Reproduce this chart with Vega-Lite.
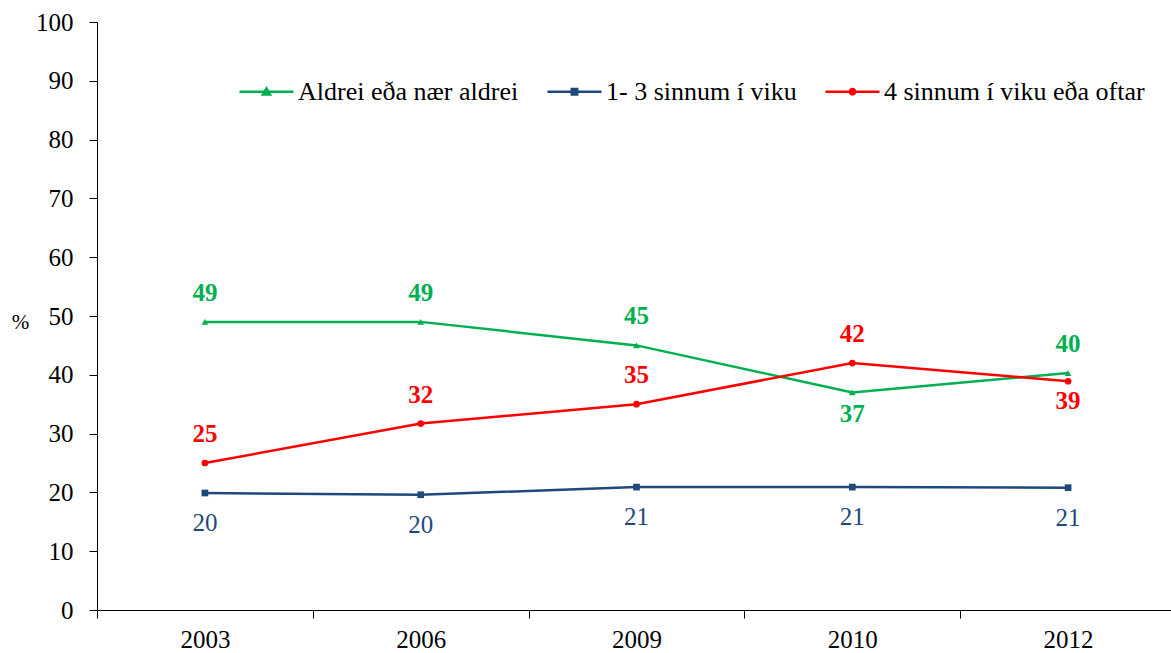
{
  "$schema": "https://vega.github.io/schema/vega-lite/v6.json",
  "width": 1074,
  "height": 588,
  "autosize": "none",
  "padding": {"left": 97, "top": 22, "right": 0, "bottom": 43},
  "background": "white",
  "config": {"view": {"stroke": null}, "font": "Liberation Serif"},
  "data": {
    "values": [
      {"year": "2003", "series": "Aldrei eða nær aldrei", "value": 49},
      {"year": "2006", "series": "Aldrei eða nær aldrei", "value": 49},
      {"year": "2009", "series": "Aldrei eða nær aldrei", "value": 45},
      {"year": "2010", "series": "Aldrei eða nær aldrei", "value": 37},
      {"year": "2012", "series": "Aldrei eða nær aldrei", "value": 40.3},
      {"year": "2003", "series": "1- 3 sinnum í viku", "value": 19.9},
      {"year": "2006", "series": "1- 3 sinnum í viku", "value": 19.6},
      {"year": "2009", "series": "1- 3 sinnum í viku", "value": 20.9},
      {"year": "2010", "series": "1- 3 sinnum í viku", "value": 20.9},
      {"year": "2012", "series": "1- 3 sinnum í viku", "value": 20.8},
      {"year": "2003", "series": "4 sinnum í viku eða oftar", "value": 25},
      {"year": "2006", "series": "4 sinnum í viku eða oftar", "value": 31.7},
      {"year": "2009", "series": "4 sinnum í viku eða oftar", "value": 35},
      {"year": "2010", "series": "4 sinnum í viku eða oftar", "value": 42},
      {"year": "2012", "series": "4 sinnum í viku eða oftar", "value": 38.9}
    ]
  },
  "encoding": {
    "x": {
      "field": "year", "type": "ordinal",
      "scale": {"type": "band", "paddingInner": 0, "paddingOuter": 0, "range": [0, 1079]},
      "axis": {"title": null, "tickBand": "extent", "labelAngle": 0, "labelFontSize": 25, "labelFont": "Liberation Serif", "labelPadding": 9, "tickSize": 8, "domainColor": "black", "tickColor": "black", "labelColor": "black", "grid": false}
    },
    "y": {
      "field": "value", "type": "quantitative",
      "scale": {"domain": [0, 100], "nice": false},
      "axis": {"values": [0, 10, 20, 30, 40, 50, 60, 70, 80, 90, 100], "title": "%", "titleAngle": 0, "titleX": -77, "titleY": 300, "titleAlign": "center", "titleBaseline": "middle", "titleFontSize": 21, "titleFontWeight": "normal", "titleFont": "Liberation Serif", "titleColor": "black", "grid": false, "domainColor": "black", "tickColor": "black", "tickSize": 8, "labelPadding": 16, "labelFontSize": 25, "labelFont": "Liberation Serif", "labelColor": "black"}
    }
  },
  "layer": [
    {
      "mark": {"type": "line", "strokeWidth": 2.5},
      "encoding": {
        "color": {
          "field": "series", "type": "nominal",
          "scale": {"domain": ["Aldrei eða nær aldrei", "1- 3 sinnum í viku", "4 sinnum í viku eða oftar"], "range": ["#00B050", "#1F497D", "#FF0000"]},
          "legend": {
            "title": null, "orient": "none", "legendX": 141, "legendY": 41, "direction": "horizontal", "columns": 3,
            "columnPadding": 23, "labelFont": "Liberation Serif", "labelFontSize": 26, "labelColor": "black", "labelLimit": 400, "labelOffset": 3,
            "symbolSize": 2916, "symbolStrokeWidth": 2.5,
            "encode": {
              "symbols": {
                "update": {
                  "shape": {"signal": "datum.index === 0 ? 'M-1,0H1M-0.13,0.1L0,-0.12L0.13,0.1Z' : datum.index === 1 ? 'M-1,0H1M-0.1,-0.1H0.1V0.1H-0.1Z' : 'M-1,0H1M-0.1,0A0.1,0.1,0,1,0,0.1,0A0.1,0.1,0,1,0,-0.1,0Z'"},
                  "fill": {"scale": "color", "field": "value"},
                  "stroke": {"scale": "color", "field": "value"},
                  "strokeWidth": {"value": 2.5},
                  "size": {"value": 2916},
                  "opacity": {"value": 1},
                  "fillOpacity": {"value": 1}
                }
              }
            }
          }
        }
      }
    },
    {
      "transform": [{"filter": "datum.series === 'Aldrei eða nær aldrei'"}],
      "mark": {"type": "point", "shape": "triangle-up", "filled": true, "opacity": 1, "size": 45, "color": "#00B050"}
    },
    {
      "transform": [{"filter": "datum.series === '1- 3 sinnum í viku'"}],
      "mark": {"type": "point", "shape": "square", "filled": true, "opacity": 1, "size": 45, "color": "#1F497D"}
    },
    {
      "transform": [{"filter": "datum.series === '4 sinnum í viku eða oftar'"}],
      "mark": {"type": "point", "shape": "circle", "filled": true, "opacity": 1, "size": 45, "color": "#FF0000"}
    },
    {
      "transform": [{"filter": "datum.series === 'Aldrei eða nær aldrei' && datum.year !== '2010'"}],
      "mark": {"type": "text", "fontWeight": "bold", "fontSize": 25, "font": "Liberation Serif", "dy": -29, "baseline": "middle", "color": "#00B050"},
      "encoding": {"text": {"field": "value", "type": "quantitative", "format": ".0f"}}
    },
    {
      "transform": [{"filter": "datum.series === 'Aldrei eða nær aldrei' && datum.year === '2010'"}],
      "mark": {"type": "text", "fontWeight": "bold", "fontSize": 25, "font": "Liberation Serif", "dy": 22, "baseline": "middle", "color": "#00B050"},
      "encoding": {"text": {"field": "value", "type": "quantitative", "format": ".0f"}}
    },
    {
      "transform": [{"filter": "datum.series === '4 sinnum í viku eða oftar' && datum.year !== '2012'"}],
      "mark": {"type": "text", "fontWeight": "bold", "fontSize": 25, "font": "Liberation Serif", "dy": -29, "baseline": "middle", "color": "#FF0000"},
      "encoding": {"text": {"field": "value", "type": "quantitative", "format": ".0f"}}
    },
    {
      "transform": [{"filter": "datum.series === '4 sinnum í viku eða oftar' && datum.year === '2012'"}],
      "mark": {"type": "text", "fontWeight": "bold", "fontSize": 25, "font": "Liberation Serif", "dy": 20, "baseline": "middle", "color": "#FF0000"},
      "encoding": {"text": {"field": "value", "type": "quantitative", "format": ".0f"}}
    },
    {
      "transform": [{"filter": "datum.series === '1- 3 sinnum í viku'"}],
      "mark": {"type": "text", "fontSize": 25, "font": "Liberation Serif", "dy": 30, "baseline": "middle", "color": "#1F497D"},
      "encoding": {"text": {"field": "value", "type": "quantitative", "format": ".0f"}}
    }
  ]
}
